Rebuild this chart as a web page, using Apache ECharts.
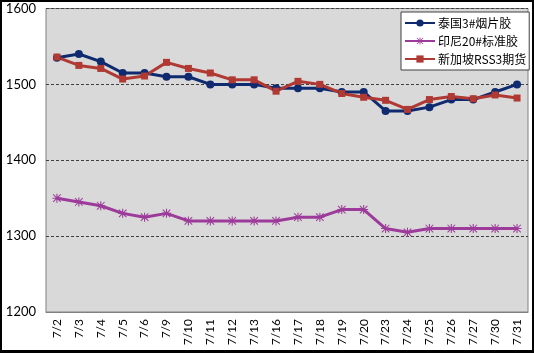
<!DOCTYPE html>
<html>
<head>
<meta charset="utf-8">
<script src="https://cdn.jsdelivr.net/npm/echarts@6/dist/echarts.min.js"></script>
<style>
	html, body { margin: 0; padding: 0; background: #fff; }
	#main { width: 534px; height: 353px; box-sizing: border-box; border: 2px solid #000; border-bottom-width: 3px; }
</style>
</head>
<body>
<div id="main"></div>
<script>
// 日期
var days = ["7/2", "7/3", "7/4", "7/5", "7/6", "7/9", "7/10", "7/11", "7/12", "7/13", "7/16",
	"7/17", "7/18", "7/19", "7/20", "7/23", "7/24", "7/25", "7/26", "7/27", "7/30", "7/31"];

// 泰国3#烟片胶
var thaiRss3 = [1535, 1540, 1530, 1515, 1515, 1510, 1510, 1500, 1500, 1500, 1495,
	1495, 1495, 1490, 1490, 1465, 1465, 1470, 1480, 1480, 1490, 1500];
// 印尼20#标准胶
var indoSir20 = [1350, 1345, 1340, 1330, 1325, 1330, 1320, 1320, 1320, 1320, 1320,
	1325, 1325, 1335, 1335, 1310, 1305, 1310, 1310, 1310, 1310, 1310];
// 新加坡RSS3期货
var sgxRss3 = [1536, 1525, 1521, 1507, 1511, 1529, 1521, 1515, 1506, 1506, 1491,
	1504, 1500, 1488, 1483, 1479, 1467, 1480, 1484, 1481, 1486, 1482];

var yTicks = { min: 1200, max: 1600, step: 100 };

// 星号标记 (excel 的 * 形)
var starPath = "path://M4.4,0H5.6V10H4.4Z M0,4.4H10V5.6H0Z " +
	"M1.2,0.4L9.6,8.8L8.8,9.6L0.4,1.2Z M8.8,0.4L9.6,1.2L1.2,9.6L0.4,8.8Z";

var font = "Lato, 'Noto Sans CJK SC', sans-serif";

var chart = echarts.init(document.getElementById("main"));
chart.setOption({
	animation: false,
	textStyle: { fontFamily: font },
	grid: {
		left: 44, right: 4, top: 6, bottom: 38,
		show: true,
		backgroundColor: "#d9d9d9",
		borderColor: "#808080",
		borderWidth: 1
	},
	legend: {
		orient: "vertical",
		left: 399,
		top: 10,
		backgroundColor: "#fff",
		borderColor: "#404040",
		borderWidth: 1,
		padding: [5, 3, 5, 3],
		itemGap: 6,
		itemWidth: 30,
		itemHeight: 9,
		textStyle: { fontSize: 12, color: "#000", fontFamily: "'Noto Sans CJK SC', sans-serif", padding: [0, 0, 0, -2] },
		data: ["泰国3#烟片胶", "印尼20#标准胶", "新加坡RSS3期货"]
	},
	xAxis: {
		type: "category",
		data: days,
		boundaryGap: true,
		axisLine: { lineStyle: { color: "#808080" } },
		axisTick: { inside: true, length: 4, lineStyle: { color: "#808080" } },
		axisLabel: { rotate: 90, fontSize: 12, color: "#000", margin: 7, interval: 0 }
	},
	yAxis: {
		type: "value",
		min: yTicks.min,
		max: yTicks.max,
		interval: yTicks.step,
		axisLine: { show: false },
		axisTick: { show: false },
		axisLabel: { fontSize: 13, color: "#000", margin: 10, formatter: function (v) { return String(v); } },
		splitLine: { lineStyle: { color: "#404040", type: [3, 2], width: 1 } }
	},
	series: [
		{
			name: "泰国3#烟片胶",
			type: "line",
			data: thaiRss3,
			symbol: "circle",
			symbolSize: 8,
			color: "#0f2a6e",
			lineStyle: { width: 3 }
		},
		{
			name: "印尼20#标准胶",
			type: "line",
			data: indoSir20,
			symbol: starPath,
			symbolSize: 9,
			color: "#9c3b9a",
			lineStyle: { width: 3 }
		},
		{
			name: "新加坡RSS3期货",
			type: "line",
			data: sgxRss3,
			symbol: "rect",
			symbolSize: 7,
			color: "#b03a33",
			lineStyle: { width: 3 }
		}
	]
});
</script>
</body>
</html>
